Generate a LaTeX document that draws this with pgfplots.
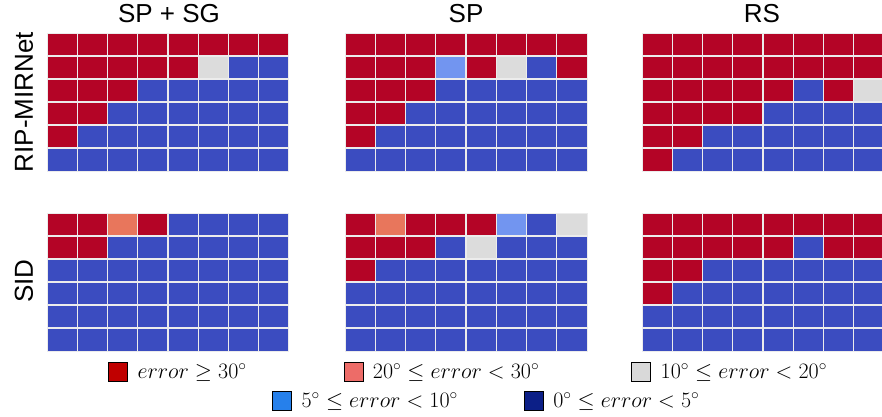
\RequirePackage{fix-cm}
\documentclass[border=0pt]{standalone}
\usepackage{pgfplots}
\pgfplotsset{compat=1.18}
\usepackage[no-math]{fontspec}
\setmainfont{Liberation Sans}

% cell colours (0 = lowest error class ... 4 = highest)
\definecolor{legred}{RGB}{192,0,0}
\definecolor{legsalmon}{RGB}{237,108,104}
\definecolor{leggrey}{RGB}{217,217,217}
\definecolor{legblue}{RGB}{38,128,235}
\definecolor{legnavy}{RGB}{12,31,135}

\pgfplotsset{
  errgrid/.style={
    width=242pt, height=138pt, scale only axis,
    anchor=south west,
    xmin=-0.5, xmax=7.5, ymin=-0.5, ymax=5.5,
    axis on top,
    grid=major,
    major grid style={white!85!gray, line width=1.2pt},
    xtick={0.5,1.5,...,6.5}, ytick={0.5,1.5,...,4.5},
    xticklabels={}, yticklabels={},
    major tick length=0pt,
    axis line style={white!85!gray, line width=1pt},
    colormap={errmap}{rgb255=(59,76,192) rgb255=(114,149,240) rgb255=(220,220,220) rgb255=(232,118,92) rgb255=(180,4,38)},
    colormap access=direct,
  },
  cells/.style={matrix plot*, mesh/cols=8, mesh/rows=6, point meta=explicit},
  legsq/.style={
    hide axis, scale only axis, width=882pt, height=416pt,
    at={(0pt,0pt)}, anchor=south west,
    xmin=0, xmax=1, ymin=0, ymax=1,
    legend image code/.code={\fill[##1] (0pt,-9.5pt) rectangle (19pt,9.5pt);},
  },
}

\begin{document}
\begin{tikzpicture}
\useasboundingbox (0pt,0pt) rectangle (882pt,416pt);

% ---- RIP-MIRNet, SP + SG
\begin{axis}[errgrid, at={(47pt,245pt)}]
\addplot[cells] coordinates {
(0,0)[0] (1,0)[0] (2,0)[0] (3,0)[0] (4,0)[0] (5,0)[0] (6,0)[0] (7,0)[0]
(0,1)[4] (1,1)[0] (2,1)[0] (3,1)[0] (4,1)[0] (5,1)[0] (6,1)[0] (7,1)[0]
(0,2)[4] (1,2)[4] (2,2)[0] (3,2)[0] (4,2)[0] (5,2)[0] (6,2)[0] (7,2)[0]
(0,3)[4] (1,3)[4] (2,3)[4] (3,3)[0] (4,3)[0] (5,3)[0] (6,3)[0] (7,3)[0]
(0,4)[4] (1,4)[4] (2,4)[4] (3,4)[4] (4,4)[4] (5,4)[2] (6,4)[0] (7,4)[0]
(0,5)[4] (1,5)[4] (2,5)[4] (3,5)[4] (4,5)[4] (5,5)[4] (6,5)[4] (7,5)[4]
};
\end{axis}

% ---- RIP-MIRNet, SP
\begin{axis}[errgrid, at={(345pt,245pt)}]
\addplot[cells] coordinates {
(0,0)[0] (1,0)[0] (2,0)[0] (3,0)[0] (4,0)[0] (5,0)[0] (6,0)[0] (7,0)[0]
(0,1)[4] (1,1)[0] (2,1)[0] (3,1)[0] (4,1)[0] (5,1)[0] (6,1)[0] (7,1)[0]
(0,2)[4] (1,2)[4] (2,2)[0] (3,2)[0] (4,2)[0] (5,2)[0] (6,2)[0] (7,2)[0]
(0,3)[4] (1,3)[4] (2,3)[4] (3,3)[0] (4,3)[0] (5,3)[0] (6,3)[0] (7,3)[0]
(0,4)[4] (1,4)[4] (2,4)[4] (3,4)[1] (4,4)[4] (5,4)[2] (6,4)[0] (7,4)[4]
(0,5)[4] (1,5)[4] (2,5)[4] (3,5)[4] (4,5)[4] (5,5)[4] (6,5)[4] (7,5)[4]
};
\end{axis}

% ---- RIP-MIRNet, RS
\begin{axis}[errgrid, at={(642pt,245pt)}]
\addplot[cells] coordinates {
(0,0)[4] (1,0)[0] (2,0)[0] (3,0)[0] (4,0)[0] (5,0)[0] (6,0)[0] (7,0)[0]
(0,1)[4] (1,1)[4] (2,1)[0] (3,1)[0] (4,1)[0] (5,1)[0] (6,1)[0] (7,1)[0]
(0,2)[4] (1,2)[4] (2,2)[4] (3,2)[4] (4,2)[0] (5,2)[0] (6,2)[0] (7,2)[0]
(0,3)[4] (1,3)[4] (2,3)[4] (3,3)[4] (4,3)[4] (5,3)[0] (6,3)[4] (7,3)[2]
(0,4)[4] (1,4)[4] (2,4)[4] (3,4)[4] (4,4)[4] (5,4)[4] (6,4)[4] (7,4)[4]
(0,5)[4] (1,5)[4] (2,5)[4] (3,5)[4] (4,5)[4] (5,5)[4] (6,5)[4] (7,5)[4]
};
\end{axis}

% ---- SID, SP + SG
\begin{axis}[errgrid, at={(47pt,65pt)}]
\addplot[cells] coordinates {
(0,0)[0] (1,0)[0] (2,0)[0] (3,0)[0] (4,0)[0] (5,0)[0] (6,0)[0] (7,0)[0]
(0,1)[0] (1,1)[0] (2,1)[0] (3,1)[0] (4,1)[0] (5,1)[0] (6,1)[0] (7,1)[0]
(0,2)[0] (1,2)[0] (2,2)[0] (3,2)[0] (4,2)[0] (5,2)[0] (6,2)[0] (7,2)[0]
(0,3)[0] (1,3)[0] (2,3)[0] (3,3)[0] (4,3)[0] (5,3)[0] (6,3)[0] (7,3)[0]
(0,4)[4] (1,4)[4] (2,4)[0] (3,4)[0] (4,4)[0] (5,4)[0] (6,4)[0] (7,4)[0]
(0,5)[4] (1,5)[4] (2,5)[3] (3,5)[4] (4,5)[0] (5,5)[0] (6,5)[0] (7,5)[0]
};
\end{axis}

% ---- SID, SP
\begin{axis}[errgrid, at={(345pt,65pt)}]
\addplot[cells] coordinates {
(0,0)[0] (1,0)[0] (2,0)[0] (3,0)[0] (4,0)[0] (5,0)[0] (6,0)[0] (7,0)[0]
(0,1)[0] (1,1)[0] (2,1)[0] (3,1)[0] (4,1)[0] (5,1)[0] (6,1)[0] (7,1)[0]
(0,2)[0] (1,2)[0] (2,2)[0] (3,2)[0] (4,2)[0] (5,2)[0] (6,2)[0] (7,2)[0]
(0,3)[4] (1,3)[0] (2,3)[0] (3,3)[0] (4,3)[0] (5,3)[0] (6,3)[0] (7,3)[0]
(0,4)[4] (1,4)[4] (2,4)[4] (3,4)[0] (4,4)[2] (5,4)[0] (6,4)[0] (7,4)[0]
(0,5)[4] (1,5)[3] (2,5)[4] (3,5)[4] (4,5)[4] (5,5)[1] (6,5)[0] (7,5)[2]
};
\end{axis}

% ---- SID, RS
\begin{axis}[errgrid, at={(642pt,65pt)}]
\addplot[cells] coordinates {
(0,0)[0] (1,0)[0] (2,0)[0] (3,0)[0] (4,0)[0] (5,0)[0] (6,0)[0] (7,0)[0]
(0,1)[0] (1,1)[0] (2,1)[0] (3,1)[0] (4,1)[0] (5,1)[0] (6,1)[0] (7,1)[0]
(0,2)[4] (1,2)[0] (2,2)[0] (3,2)[0] (4,2)[0] (5,2)[0] (6,2)[0] (7,2)[0]
(0,3)[4] (1,3)[4] (2,3)[0] (3,3)[0] (4,3)[0] (5,3)[0] (6,3)[0] (7,3)[0]
(0,4)[4] (1,4)[4] (2,4)[4] (3,4)[4] (4,4)[4] (5,4)[0] (6,4)[4] (7,4)[4]
(0,5)[4] (1,5)[4] (2,5)[4] (3,5)[4] (4,5)[4] (5,5)[4] (6,5)[4] (7,5)[4]
};
\end{axis}

% column titles and row labels
\begin{scope}[every node/.style={font=\fontsize{26}{31}\selectfont}]
\node at (169pt,402.5pt) {SP + SG};
\node at (466pt,402.5pt) {SP};
\node at (762pt,402.5pt) {RS};
\node[rotate=90] at (24pt,314pt) {RIP-MIRNet};
\node[rotate=90] at (24pt,135pt) {SID};
\end{scope}

% legend, first row
\begin{axis}[legsq,
  legend columns=3,
  legend style={at={(0.12245,0.107)}, anchor=west, draw=none, fill=none,
    inner sep=0pt, font=\fontsize{22}{26}\selectfont,
    nodes={inner sep=0pt, anchor=west},
    /tikz/every odd column/.append style={column sep=10pt},
    /tikz/column 2/.append style={column sep=97pt},
    /tikz/column 4/.append style={column sep=92pt}},
]
\addlegendimage{fill=legred}
\addlegendentry{$error \geq 30^{\circ}$}
\addlegendimage{fill=legsalmon}
\addlegendentry{$20^{\circ} \leq error < 30^{\circ}$}
\addlegendimage{fill=leggrey}
\addlegendentry{$10^{\circ} \leq error < 20^{\circ}$}
\end{axis}

% legend, second row
\begin{axis}[legsq,
  legend columns=2,
  legend style={at={(0.3084,0.036)}, anchor=west, draw=none, fill=none,
    inner sep=0pt, font=\fontsize{22}{26}\selectfont,
    nodes={inner sep=0pt, anchor=west},
    /tikz/every odd column/.append style={column sep=10pt},
    /tikz/column 2/.append style={column sep=66pt}},
]
\addlegendimage{fill=legblue}
\addlegendentry{$5^{\circ} \leq error < 10^{\circ}$}
\addlegendimage{fill=legnavy}
\addlegendentry{$0^{\circ} \leq error < 5^{\circ}$}
\end{axis}
\end{tikzpicture}
\end{document}
